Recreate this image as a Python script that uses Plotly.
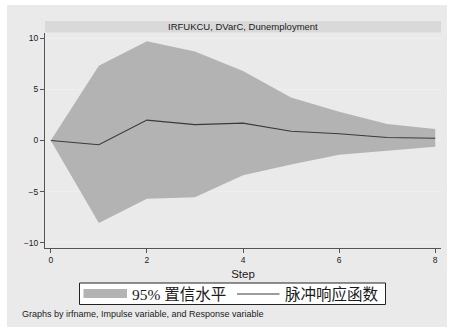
import plotly.graph_objects as go

# Impulse response of Dunemployment to DVarC (irf UKCU), steps 0-8
step = [0, 1, 2, 3, 4, 5, 6, 7, 8]
irf = [0.0, -0.42, 1.99, 1.55, 1.7, 0.9, 0.66, 0.3, 0.22]
upper = [0.0, 7.3, 9.7, 8.7, 6.8, 4.2, 2.8, 1.6, 1.12]
lower = [0.0, -8.05, -5.7, -5.55, -3.4, -2.35, -1.4, -1.0, -0.6]

y_ticks = [-10, -5, 0, 5, 10]
x_ticks = [0, 2, 4, 6, 8]

panel_title = "IRFUKCU, DVarC, Dunemployment"
note = "Graphs by irfname, Impulse variable, and Response variable"
band_label = "95% 置信水平"
line_label = "脉冲响应函数"

BAND = "#b3b3b3"
LINE = "#3a3a3a"

W, H = 453, 329
L, R, T, B = 45, 12, 33, 81
pw, ph = W - L - R, H - T - B


def px_x(p):
    return (p - L) / pw


def px_y(p):
    return (H - B - p) / ph


sans = "Liberation Sans, Arial, sans-serif"
serif_cjk = "Liberation Serif, Noto Sans CJK SC, serif"

fig = go.Figure()
fig.add_trace(go.Scatter(x=step, y=lower, mode="lines", line=dict(width=0, color=BAND),
                         showlegend=False, hoverinfo="skip"))
fig.add_trace(go.Scatter(x=step, y=upper, mode="lines", line=dict(width=0, color=BAND),
                         fill="tonexty", fillcolor=BAND, name=band_label, showlegend=False))
fig.add_trace(go.Scatter(x=step, y=irf, mode="lines", line=dict(width=1.1, color=LINE),
                         name=line_label, showlegend=False))


def prect(x0, x1, y0, y1, **kw):
    return dict(type="rect", xref="paper", yref="paper",
                x0=px_x(x0), x1=px_x(x1), y0=px_y(y1), y1=px_y(y0), **kw)


shapes = [
    # outer graph region
    prect(7, 447, 5, 327, layer="below", fillcolor="#eaeaea", line=dict(width=0)),
    # panel title strip
    prect(45, 441, 21, 32.5, fillcolor="#d9d9d9", line=dict(width=0)),
    # legend frame
    prect(79.5, 385.5, 283, 304.5, fillcolor="white", line=dict(width=1, color="#222222")),
    # legend keys
    prect(83.5, 127, 289, 298, fillcolor=BAND, line=dict(width=0)),
    dict(type="line", xref="paper", yref="paper", x0=px_x(237), x1=px_x(279.5),
         y0=px_y(294), y1=px_y(294), line=dict(width=1.1, color=LINE)),
]

annotations = [
    dict(text=panel_title, xref="paper", yref="paper", x=px_x(243), y=px_y(26.8),
         xanchor="center", yanchor="middle", showarrow=False,
         font=dict(family=sans, size=9.5, color="#1a1a1a")),
    dict(text=band_label, xref="paper", yref="paper", x=px_x(130), y=px_y(294),
         xanchor="left", yanchor="middle", showarrow=False,
         font=dict(family=serif_cjk, size=15.5, color="#1a1a1a")),
    dict(text=line_label, xref="paper", yref="paper", x=px_x(282.5), y=px_y(294),
         xanchor="left", yanchor="middle", showarrow=False,
         font=dict(family=serif_cjk, size=15.5, color="#1a1a1a")),
    dict(text=note, xref="paper", yref="paper", x=px_x(20), y=px_y(313.5),
         xanchor="left", yanchor="middle", showarrow=False,
         font=dict(family=sans, size=9, color="#1a1a1a")),
]

fig.update_layout(
    width=W, height=H,
    margin=dict(l=L, r=R, t=T, b=B),
    paper_bgcolor="white",
    plot_bgcolor="white",
    shapes=shapes,
    annotations=annotations,
    showlegend=False,
    xaxis=dict(
        range=[-0.12, 8.12], tickvals=x_ticks, ticks="outside", ticklen=4, tickcolor="#555555",
        showline=True, linecolor="#555555", linewidth=1, showgrid=False, zeroline=False,
        tickfont=dict(family=sans, size=8.5, color="#1a1a1a"),
        title=dict(text="Step", font=dict(family=sans, size=11.5, color="#1a1a1a"), standoff=5),
    ),
    yaxis=dict(
        range=[-10.5, 10.5], tickvals=y_ticks, ticks="outside", ticklen=4, tickcolor="#555555",
        showline=True, linecolor="#555555", linewidth=1, showgrid=True, gridcolor="#efefef",
        gridwidth=1, zeroline=False,
        tickfont=dict(family=sans, size=8.5, color="#1a1a1a"),
    ),
)

fig.write_html("out.html")
